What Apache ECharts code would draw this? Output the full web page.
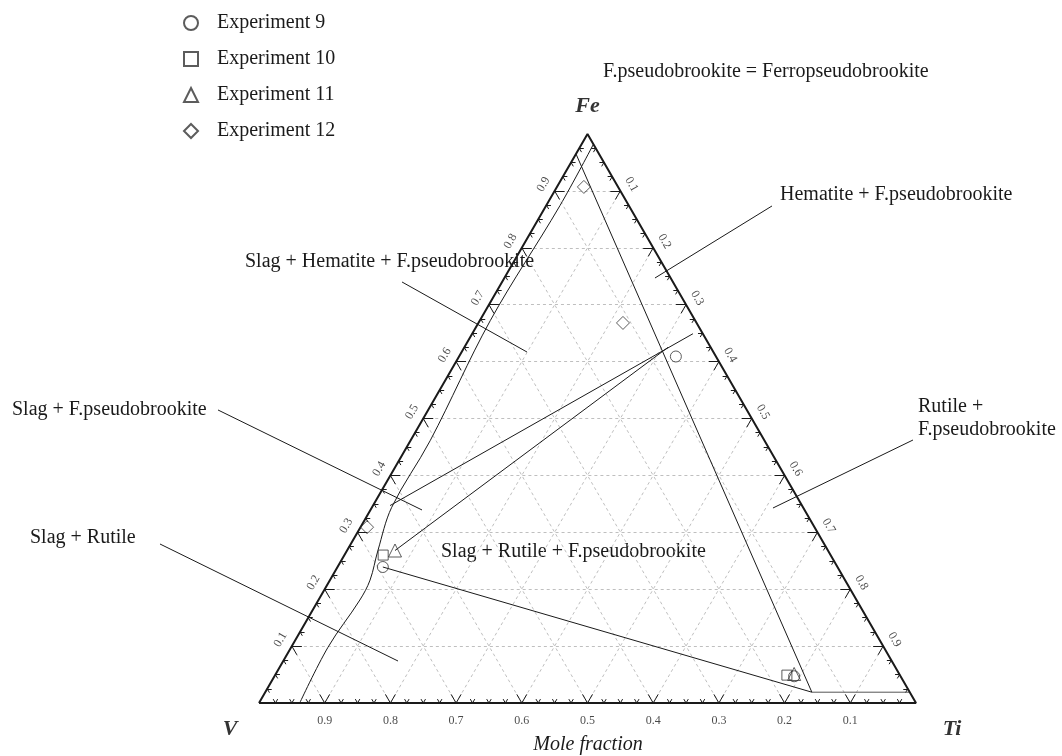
<!DOCTYPE html>
<html>
<head>
<meta charset="utf-8">
<script src="https://cdn.jsdelivr.net/npm/echarts@6/dist/echarts.min.js"></script>
<style>
  html, body { margin: 0; padding: 0; background: #ffffff; }
  #chart { width: 1062px; height: 756px; }
</style>
</head>
<body>
<div id="chart"></div>
<script>
// ---- Ternary system V - Ti - Fe (mole fractions, each point is [V, Ti, Fe]) ----
const vertexNames = ['V', 'Ti', 'Fe'];
const tickLabels = ['0.1', '0.2', '0.3', '0.4', '0.5', '0.6', '0.7', '0.8', '0.9'];
const legendNames = ['Experiment 9', 'Experiment 10', 'Experiment 11', 'Experiment 12'];

// Measured phase compositions
const exp9 = [[0.061, 0.330, 0.609], [0.692, 0.069, 0.239], [0.162, 0.791, 0.047]];
const exp10 = [[0.681, 0.059, 0.260], [0.172, 0.779, 0.049]];
const exp11 = [[0.659, 0.073, 0.268], [0.160, 0.789, 0.051]];
const exp12 = [[0.052, 0.041, 0.907], [0.112, 0.220, 0.668], [0.681, 0.010, 0.309]];

// Slag saturation boundary (from the Fe-Ti side down to the V-Ti side)
const slagBoundary = [
  [0.000, 0.018, 0.982], [0.105, 0.021, 0.874], [0.312, 0.016, 0.672],
  [0.509, 0.030, 0.461], [0.626, 0.030, 0.344], [0.685, 0.047, 0.268],
  [0.723, 0.061, 0.216], [0.756, 0.063, 0.181], [0.846, 0.056, 0.098],
  [0.938, 0.062, 0.000]
];
// Ferropseudobrookite / hematite boundary
const fpbBoundary = [[0.035, 0.000, 0.965], [0.149, 0.832, 0.019]];
// Rutile tie line from the slag to the pseudobrookite corner
const rutileTie = [[0.692, 0.069, 0.239], [0.149, 0.832, 0.019]];
// Low-Fe boundary towards the Ti corner
const tiSideBoundary = [[0.149, 0.832, 0.019], [0.000, 0.981, 0.019]];
// Three-phase tie lines
const tieUpper = [[0.627, 0.026, 0.347], [0.015, 0.336, 0.649]];
const tieLower = [[0.659, 0.073, 0.268], [0.065, 0.310, 0.625]];

// ---- helpers ----
const H = Math.sqrt(3) / 2;
function toXY(p) { return [p[1] + p[2] / 2, p[2] * H]; }

// page geometry of the triangle (side = 657 px, V corner at 259,703)
const SIDE = 657, OX = 259, OY = 703, W = 1062, HGT = 756;
const xMin = -OX / SIDE, xMax = (W - OX) / SIDE;
const yMin = -(HGT - OY) / SIDE, yMax = OY / SIDE;
const px = v => v / SIDE; // pixel length -> data length

const FONT = '"Liberation Serif", "Times New Roman", serif';
const INK = '#1a1a1a';

// dashed composition grid every 0.1
const gridSegs = [];
for (let k = 1; k <= 9; k++) {
  const f = k / 10;
  gridSegs.push({ coords: [toXY([1 - f, 0, f]), toXY([0, 1 - f, f])] });
  gridSegs.push({ coords: [toXY([1 - f, f, 0]), toXY([0, f, 1 - f])] });
  gridSegs.push({ coords: [toXY([f, 1 - f, 0]), toXY([f, 0, 1 - f])] });
}

// edge ticks every 0.025, larger at each 0.1
const tickSegs = [];
const dirs = {
  bottom: [[-0.5, H], [0.5, H]],
  left: [[1, 0], [0.5, -H]],
  right: [[-1, 0], [-0.5, -H]]
};
for (let i = 1; i < 40; i++) {
  const t = i / 40;
  const len = px(i % 4 === 0 ? 10 : 4.5);
  const pts = {
    bottom: [t, 0],
    left: [t / 2, t * H],
    right: [1 - t / 2, t * H]
  };
  for (const side of ['bottom', 'left', 'right']) {
    const p = pts[side];
    for (const d of dirs[side]) {
      tickSegs.push({ coords: [p, [p[0] + d[0] * len, p[1] + d[1] * len]] });
    }
  }
}

// tick labels along each edge
const bottomLabels = tickLabels.map(s => {
  const v = parseFloat(s);
  return { value: [1 - v, -px(18)], label: { formatter: s } };
});
const leftLabels = tickLabels.map(s => {
  const f = parseFloat(s);
  const p = [f / 2, f * H];
  return { value: [p[0] - H * px(13), p[1] + 0.5 * px(13)], label: { formatter: s, rotate: 60 } };
});
const rightLabels = tickLabels.map(s => {
  const t = parseFloat(s);
  const p = toXY([0, t, 1 - t]);
  return { value: [p[0] + H * px(13), p[1] + 0.5 * px(13)], label: { formatter: s, rotate: -60 } };
});

// corner labels
const cornerLabels = [
  { value: [0, 0], label: { formatter: vertexNames[0], offset: [-29, 26] } },
  { value: [1, 0], label: { formatter: vertexNames[1], offset: [36, 26] } },
  { value: [0.5, H], label: { formatter: vertexNames[2], offset: [0, -28] } }
];

// leader lines from the phase-field names into their fields (data units)
const leaders = [
  [[0.2177, 0.6408], [0.4079, 0.5342]],
  [[0.7808, 0.7565], [0.6027, 0.6469]],
  [[-0.0624, 0.4460], [0.2481, 0.2938]],
  [[0.9954, 0.4003], [0.7823, 0.2968]],
  [[-0.1507, 0.2420], [0.2116, 0.0639]]
].map(c => ({ coords: c }));

function segSeries(data, color, width, type, z) {
  return {
    type: 'lines', coordinateSystem: 'cartesian2d', data: data, silent: true, z: z,
    lineStyle: { color: color, width: width, type: type, opacity: 1 }, symbol: 'none'
  };
}
function pathSeries(points, opts) {
  return Object.assign({
    type: 'line', data: points.map(toXY), symbol: 'none', silent: true, z: 4,
    lineStyle: { color: INK, width: 1 }
  }, opts || {});
}
function expSeries(name, pts, symbol, size) {
  return {
    name: name, type: 'scatter', data: pts.map(toXY), symbol: symbol, symbolSize: size, z: 6,
    itemStyle: { color: 'rgba(255,255,255,0)', borderColor: '#333', borderWidth: 1 }
  };
}
function labelSeries(data, fontSize, extra) {
  return {
    type: 'scatter', data: data, symbolSize: 0, silent: true, z: 7,
    label: Object.assign({
      show: true, position: 'inside', color: INK, fontFamily: FONT, fontSize: fontSize
    }, extra || {})
  };
}
function note(text, x, y, extra) {
  return {
    type: 'text', x: x, y: y, silent: true,
    style: Object.assign({
      text: text, font: ANN + 'px ' + FONT, fill: INK, textVerticalAlign: 'middle'
    }, extra || {})
  };
}

const chart = echarts.init(document.getElementById('chart'), null, { renderer: 'canvas' });
const ANN = 20;
chart.setOption({
  backgroundColor: '#ffffff',
  animation: false,
  grid: { left: 0, right: 0, top: 0, bottom: 0 },
  xAxis: { type: 'value', min: xMin, max: xMax, show: false },
  yAxis: { type: 'value', min: yMin, max: yMax, show: false },
  legend: {
    data: legendNames, orient: 'vertical', left: 178, top: 8, padding: 5,
    itemWidth: 14, itemHeight: 14, itemGap: 16,
    textStyle: { fontFamily: FONT, fontSize: 20, color: INK, padding: [0, 0, 0, 14] },
    selectedMode: false
  },
  series: [
    segSeries(gridSegs, '#bfbfbf', 1, [3, 3], 1),
    segSeries(tickSegs, INK, 1, 'solid', 3),
    {
      type: 'line', data: [[0, 0], [1, 0], [0.5, H], [0, 0]], symbol: 'none', silent: true, z: 5,
      lineStyle: { color: INK, width: 2 }
    },
    pathSeries(slagBoundary, { smooth: 0.35 }),
    pathSeries(fpbBoundary),
    pathSeries(rutileTie),
    pathSeries(tiSideBoundary, { lineStyle: { color: '#555', width: 1 } }),
    pathSeries(tieUpper),
    pathSeries(tieLower),
    segSeries(leaders, INK, 1, 'solid', 4),
    expSeries(legendNames[0], exp9, 'circle', 11),
    expSeries(legendNames[1], exp10, 'rect', 10),
    expSeries(legendNames[2], exp11, 'triangle', 13),
    expSeries(legendNames[3], exp12, 'diamond', 13),
    labelSeries(bottomLabels, 12),
    labelSeries(leftLabels, 12),
    labelSeries(rightLabels, 12),
    labelSeries(cornerLabels, 22, { fontWeight: 'bold', fontStyle: 'italic', position: 'inside', color: '#000' })
  ],
  graphic: [
    note('F.pseudobrookite = Ferropseudobrookite', 603, 72),
    note('Hematite + F.pseudobrookite', 780, 195),
    note('Slag + Hematite + F.pseudobrookite', 245, 262),
    note('Slag + F.pseudobrookite', 12, 410),
    note('Rutile +', 918, 407),
    note('F.pseudobrookite', 918, 430),
    note('Slag + Rutile', 30, 538),
    note('Slag + Rutile + F.pseudobrookite', 441, 552),
    note('Mole fraction', 588, 745, { font: 'italic 20px ' + FONT, textAlign: 'center' })
  ]
});
</script>
</body>
</html>
